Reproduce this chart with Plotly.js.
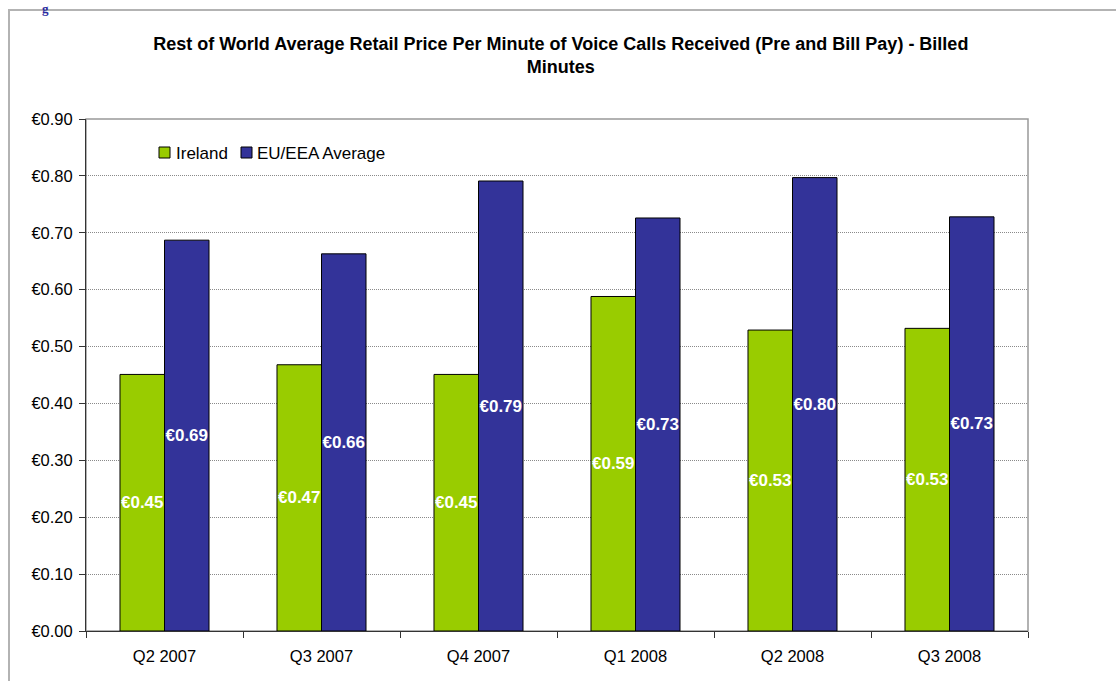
<!DOCTYPE html>
<html>
<head>
<meta charset="utf-8">
<script src="https://cdn.plot.ly/plotly-3.0.1.min.js"></script>
<style>
  html, body { margin: 0; padding: 0; background: #ffffff; }
  #chart { width: 1116px; height: 681px; }
</style>
</head>
<body>
<div id="chart"></div>
<script>
// Quarters on the category axis
const quarters = ['Q2 2007', 'Q3 2007', 'Q4 2007', 'Q1 2008', 'Q2 2008', 'Q3 2008'];

// Average retail price per minute (EUR)
const irelandPrice = [0.451, 0.468, 0.451, 0.588, 0.529, 0.532];
const euAveragePrice = [0.687, 0.663, 0.791, 0.726, 0.797, 0.728];

// Series names and colours
const seriesNames = ['Ireland', 'EU/EEA Average'];
const seriesColors = ['#99cc00', '#333399'];

// Y-axis tick values and their labels
const yTicks = [0, 0.1, 0.2, 0.3, 0.4, 0.5, 0.6, 0.7, 0.8, 0.9];
const yTickLabels = yTicks.map(v => '€' + v.toFixed(2));

const fontFamily = 'Liberation Sans, Arial, Helvetica, sans-serif';

const labelFont = { family: fontFamily, size: 17, color: '#ffffff', weight: 'bold' };

// plot-area geometry in pixels (used to place the legend boxes)
const plotLeft = 86, plotTop = 119, plotW = 942, plotH = 512;
const px = x => (x - plotLeft) / plotW;
const py = y => (plotTop + plotH - y) / plotH;

function barTrace(name, values, color) {
  return {
    type: 'bar',
    name: name,
    x: quarters,
    y: values,
    marker: { color: color, line: { color: '#000000', width: 1 } },
    texttemplate: '€%{y:.2f}',
    textposition: 'inside',
    insidetextanchor: 'middle',
    textangle: 0,
    constraintext: 'none',
    textfont: labelFont,
    hoverinfo: 'x+y+name'
  };
}

const data = [
  barTrace(seriesNames[0], irelandPrice, seriesColors[0]),
  barTrace(seriesNames[1], euAveragePrice, seriesColors[1])
];

// Legend drawn as small boxes with text beside them
const legendItems = [
  { box: 159, text: 174 },
  { box: 241, text: 255 }
];
const legendShapes = legendItems.map((it, i) => ({
  type: 'rect', xref: 'paper', yref: 'paper',
  x0: px(it.box), x1: px(it.box + 11),
  y0: py(158), y1: py(147),
  fillcolor: seriesColors[i],
  line: { color: '#000000', width: 1 }
}));
const legendLabels = legendItems.map((it, i) => ({
  text: seriesNames[i],
  xref: 'paper', yref: 'paper',
  x: px(it.text), y: py(153),
  xanchor: 'left', yanchor: 'middle',
  showarrow: false,
  font: { family: fontFamily, size: 17, color: '#000000' }
}));

const layout = {
  width: 1116,
  height: 681,
  paper_bgcolor: '#ffffff',
  plot_bgcolor: '#ffffff',
  margin: { l: plotLeft, r: 1116 - plotLeft - plotW, t: plotTop, b: 681 - plotTop - plotH },
  font: { family: fontFamily, size: 16, color: '#000000' },
  barmode: 'group',
  bargap: 0.433,
  bargroupgap: 0,
  title: {
    text: 'Rest of World Average Retail Price Per Minute of Voice Calls Received (Pre and Bill Pay) - Billed<br>Minutes',
    font: { family: fontFamily, size: 18, color: '#000000', weight: 'bold' },
    x: 0.504,
    xanchor: 'center',
    xref: 'paper',
    y: 1 - 50 / 681,
    yanchor: 'top',
    yref: 'container'
  },
  showlegend: false,
  xaxis: {
    type: 'category',
    tickson: 'boundaries',
    ticks: 'outside',
    ticklen: 6,
    tickcolor: '#333333',
    ticklabelstandoff: 10,
    showline: true,
    linecolor: '#333333',
    linewidth: 1,
    showgrid: false,
    tickfont: { family: fontFamily, size: 16.5, color: '#000000' },
    fixedrange: true
  },
  yaxis: {
    range: [0, 0.9],
    tickmode: 'array',
    tickvals: yTicks,
    ticktext: yTickLabels,
    ticks: 'outside',
    ticklen: 6,
    tickcolor: '#333333',
    ticklabelstandoff: 3,
    showline: true,
    linecolor: '#333333',
    linewidth: 1,
    showgrid: true,
    gridcolor: '#8a8a8a',
    gridwidth: 1,
    griddash: '1px,1px',
    zeroline: false,
    tickfont: { family: fontFamily, size: 16.5, color: '#000000' },
    fixedrange: true
  },
  shapes: [
    // plot area border (top and right)
    {
      type: 'rect', xref: 'paper', yref: 'paper',
      x0: 0, x1: 1, y0: 0, y1: 1,
      line: { color: '#999999', width: 1.5 },
      layer: 'below'
    },
    // outer chart frame
    {
      type: 'path', xref: 'paper', yref: 'paper',
      path: 'M ' + px(9) + ' ' + py(690) + ' L ' + px(9) + ' ' + py(10) + ' L ' + px(1130) + ' ' + py(10),
      line: { color: '#b3b3b3', width: 2 },
      layer: 'below'
    }
  ].concat(legendShapes),
  annotations: [
    {
      text: 'g',
      xref: 'paper', yref: 'paper',
      x: px(45), y: py(-1),
      xanchor: 'center', yanchor: 'top',
      showarrow: false,
      font: { family: 'Liberation Serif, Times New Roman, serif', size: 13, color: '#2a2aa0', weight: 'bold' }
    }
  ].concat(legendLabels)
};

Plotly.newPlot('chart', data, layout, { displayModeBar: false, staticPlot: true });
</script>
</body>
</html>
